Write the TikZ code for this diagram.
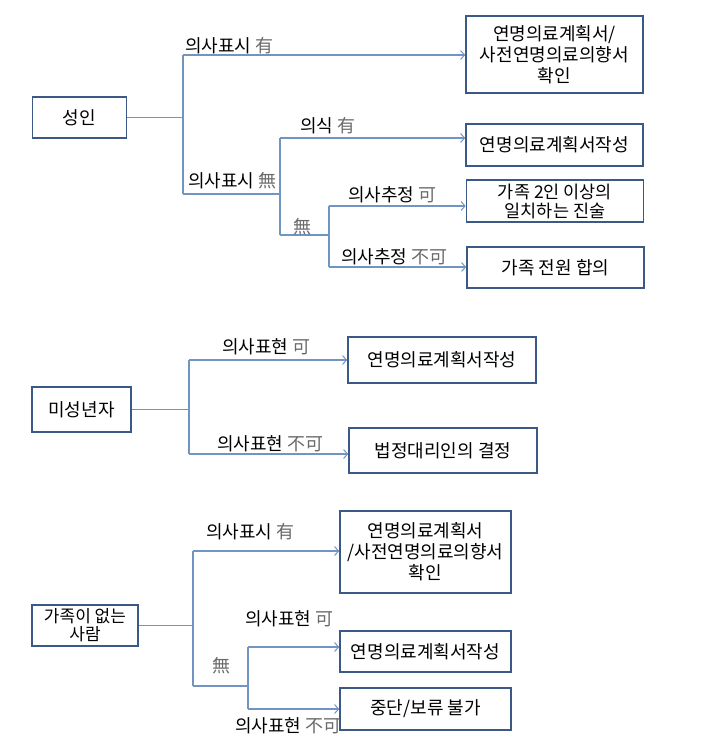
\documentclass[tikz,border=0pt]{standalone}
\usepackage{fontspec}
\setmainfont{Noto Sans CJK KR}
\usetikzlibrary{arrows.meta}
\definecolor{boxcol}{HTML}{3A5A85}
\definecolor{linecol}{HTML}{7094C4}
\definecolor{hanjacol}{HTML}{6A6A6A}
\newcommand{\hj}[1]{{\color{hanjacol}#1}}
\begin{document}
\begin{tikzpicture}[x=1pt,y=-1pt,
  box/.style={draw=boxcol,line width=1.6pt,align=center,inner sep=0pt,font=\fontsize{18}{21}\selectfont},
  lbl/.style={anchor=west,inner sep=0pt,font=\fontsize{18}{20}\selectfont},
  conn/.style={draw=linecol,line width=1.2pt},
  arr/.style={conn,-{Straight Barb[length=4pt,width=9pt,line width=1pt]}}]
\fill[white] (0,0) rectangle (727,755);
\useasboundingbox (0,0) rectangle (727,755);

% ---------- Section 1 ----------
\node[box,minimum width=94pt,minimum height=41pt] (adult) at (79.5,117.5) {성인};
\node[box,minimum width=177pt,minimum height=77pt] (s1a) at (554.5,54.5) {연명의료계획서/\\사전연명의료의향서\\확인};
\node[box,minimum width=177pt,minimum height=42pt] (s1b) at (554.5,145) {연명의료계획서작성};
\node[box,minimum width=177pt,minimum height=42pt,font=\fontsize{17.5}{19}\selectfont] (s1c) at (555,201) {가족 2인 이상의\\일치하는 진술};
\node[box,minimum width=177pt,minimum height=41pt] (s1d) at (555.5,267.5) {가족 전원 합의};

\coordinate (t1top) at (183,55);
\coordinate (t1mid) at (183,117.5);
\coordinate (t1bot) at (183,194);
\coordinate (t2top) at (280,138);
\coordinate (t2bot) at (280,235);
\coordinate (t3top) at (329,206);
\coordinate (t3bot) at (329,267);

\draw[conn] (adult.east |- t1mid) -- (t1mid);
\draw[conn] (t1top) -- (t1bot);
\draw[arr] (t1top) -- (t1top -| s1a.west);
\draw[conn] (t1bot) -- (t1bot -| t2top);
\draw[conn] (t2top) -- (t2bot);
\draw[arr] (t2top) -- (t2top -| s1b.west);
\draw[conn] (t2bot) -- (t2bot -| t3top);
\draw[conn] (t3top) -- (t3bot);
\draw[arr] (t3top) -- (t3top -| s1c.west);
\draw[arr] (t3bot) -- (t3bot -| s1d.west);

\node[lbl] (l1a) at (185,46) {의사표시 \hj{有}};
\node[lbl] (l1b) at (188,181) {의사표시 \hj{無}};
\node[lbl] (l1c) at (300,126) {의식 \hj{有}};
\node[lbl,anchor=center] (l1d) at (302,227) {\hj{無}};
\node[lbl] (l1e) at (348,195) {의사추정 \hj{可}};
\node[lbl] (l1f) at (341,257) {의사추정 \hj{不可}};

% ---------- Section 2 ----------
\node[box,minimum width=99pt,minimum height=45pt] (minor) at (81.5,409.5) {미성년자};
\node[box,minimum width=188pt,minimum height=46pt] (s2a) at (442,360) {연명의료계획서작성};
\node[box,minimum width=188pt,minimum height=45pt] (s2b) at (443,450.5) {법정대리인의 결정};

\coordinate (u1top) at (189,360);
\coordinate (u1mid) at (189,409.5);
\coordinate (u1bot) at (189,454);
\draw[conn] (minor.east |- u1mid) -- (u1mid);
\draw[conn] (u1top) -- (u1bot);
\draw[arr] (u1top) -- (u1top -| s2a.west);
\draw[arr] (u1bot) -- (u1bot -| s2b.west);

\node[lbl] (l2a) at (222,347) {의사표현 \hj{可}};
\node[lbl] (l2b) at (217,444) {의사표현 \hj{不可}};

% ---------- Section 3 ----------
\node[box,minimum width=106pt,minimum height=41pt,font=\fontsize{17}{18}\selectfont] (nofam) at (85,625.5) {가족이 없는\\사람};
\node[box,minimum width=171pt,minimum height=82pt] (s3a) at (425.5,552) {연명의료계획서\\/사전연명의료의향서\\확인};
\node[box,minimum width=171pt,minimum height=41pt] (s3b) at (425.5,651.5) {연명의료계획서작성};
\node[box,minimum width=171pt,minimum height=42pt] (s3c) at (425.5,709) {중단/보류 불가};

\coordinate (v1top) at (193,551);
\coordinate (v1mid) at (193,625.5);
\coordinate (v1bot) at (193,686);
\coordinate (v2top) at (248,647);
\coordinate (v2bot) at (248,709);
\draw[conn] (nofam.east |- v1mid) -- (v1mid);
\draw[conn] (v1top) -- (v1bot);
\draw[arr] (v1top) -- (v1top -| s3a.west);
\draw[conn] (v1bot) -- (v1bot -| v2top);
\draw[conn] (v2top) -- (v2bot);
\draw[arr] (v2top) -- (v2top -| s3b.west);
\draw[arr] (v2bot) -- (v2bot -| s3c.west);

\node[lbl] (l3a) at (206,532) {의사표시 \hj{有}};
\node[lbl] (l3b) at (245,619) {의사표현 \hj{可}};
\node[lbl,anchor=center] (l3c) at (221,666) {\hj{無}};
\node[lbl] (l3d) at (235,726) {의사표현 \hj{不可}};
\end{tikzpicture}
\end{document}
